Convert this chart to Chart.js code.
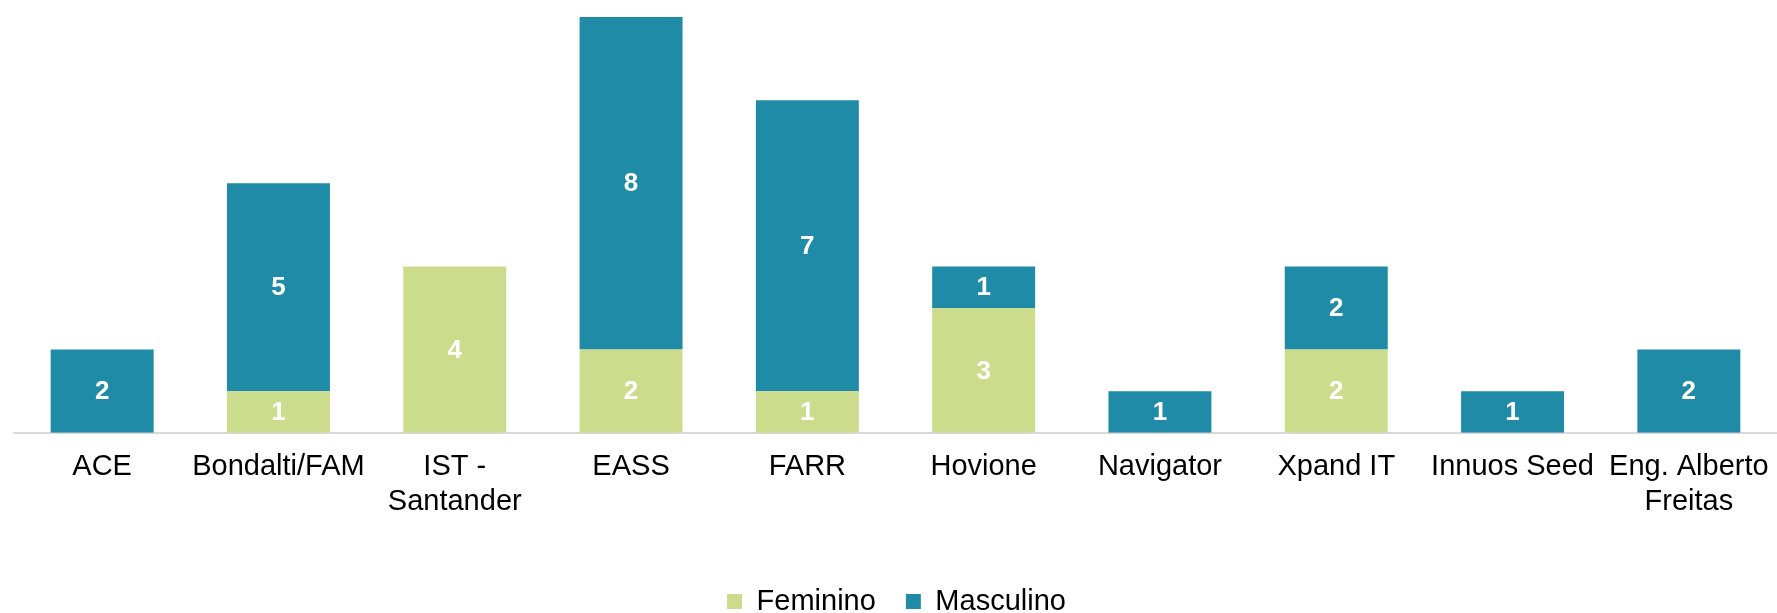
<!DOCTYPE html>
<html>
<head>
<meta charset="utf-8">
<script src="https://cdn.jsdelivr.net/npm/chart.js@4.4.0/dist/chart.umd.min.js"></script>
<style>
    body { margin: 0; background: #fff; overflow: hidden; }
    #wrap { width: 1777px; height: 613px; }
</style>
</head>
<body>
<div id="wrap"><canvas id="gender-chart"></canvas></div>
<script>
// chart data
const categories = ['ACE', 'Bondalti/FAM', ['IST -', 'Santander'], 'EASS', 'FARR', 'Hovione', 'Navigator', 'Xpand IT', 'Innuos Seed', ['Eng. Alberto', 'Freitas']];
const feminino = [null, 1, 4, 2, 1, 3, null, 2, null, null];
const masculino = [2, 5, null, 8, 7, 1, 1, 2, 1, 2];

// white value labels in the middle of each segment
const barValues = {
    id: 'barValues',
    afterDatasetsDraw(chart) {
        const ctx = chart.ctx;
        ctx.save();
        ctx.fillStyle = '#ffffff';
        ctx.font = 'bold 26px "Liberation Sans", Arial, sans-serif';
        ctx.textAlign = 'center';
        ctx.textBaseline = 'middle';
        chart.data.datasets.forEach((ds, i) => {
            const meta = chart.getDatasetMeta(i);
            meta.data.forEach((bar, j) => {
                const v = ds.data[j];
                if (v === null || v === 0) return;
                const p = bar.getProps(['x', 'y', 'base'], true);
                ctx.fillText(String(v), p.x, (p.y + p.base) / 2 + 1);
            });
        });
        ctx.restore();
    }
};

document.addEventListener('DOMContentLoaded', () => {
    const ctx = document.getElementById('gender-chart').getContext('2d');
    const genderChart = new Chart(ctx, {
        type: 'bar',
        data: {
            labels: categories,
            datasets: [{
                label: 'Feminino',
                data: feminino,
                backgroundColor: '#cbdd8d',
                barPercentage: 0.584,
                categoryPercentage: 1,
            }, {
                label: 'Masculino',
                data: masculino,
                backgroundColor: '#1f8ba6',
                barPercentage: 0.584,
                categoryPercentage: 1,
            }]
        },
        options: {
            responsive: true,
            maintainAspectRatio: false,
            animation: false,
            layout: {
                padding: { left: 14, right: -2, top: 17, bottom: -13 }
            },
            scales: {
                x: {
                    stacked: true,
                    grid: { display: false, drawTicks: false },
                    border: { display: true, color: '#d9d9d9', width: 2 },
                    ticks: {
                        color: '#000000',
                        autoSkip: false,
                        maxRotation: 0,
                        padding: 17,
                        font: { family: '"Liberation Sans", Arial, sans-serif', size: 29, lineHeight: 1.2 }
                    },
                    // labels may run to the canvas edge, like the original
                    afterFit(scale) {
                        scale.paddingLeft = 0;
                        scale.paddingRight = 0;
                    }
                },
                y: {
                    stacked: true,
                    display: false,
                    min: 0,
                    max: 10
                }
            },
            plugins: {
                legend: {
                    display: true,
                    position: 'bottom',
                    title: {
                        display: true,
                        text: '',
                        font: { size: 1 },
                        padding: { top: 19.5, bottom: 0 }
                    },
                    labels: {
                        color: '#000000',
                        boxWidth: 15,
                        boxHeight: 15,
                        padding: 30,
                        font: { family: '"Liberation Sans", Arial, sans-serif', size: 29 }
                    }
                },
                tooltip: { enabled: false }
            }
        },
        plugins: [barValues]
    });
});
</script>
</body>
</html>
